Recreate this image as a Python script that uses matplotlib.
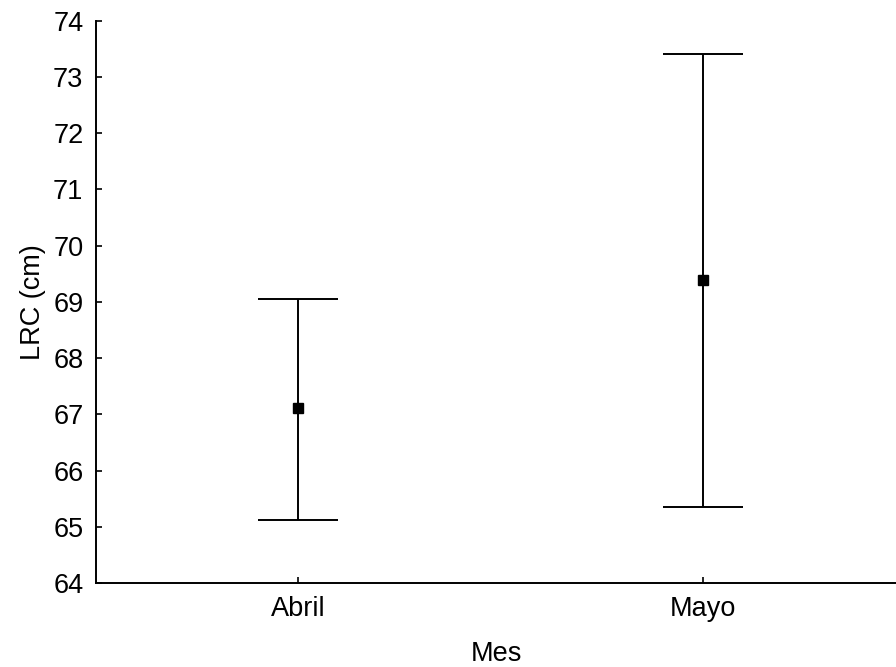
import matplotlib.pyplot as plt

plt.rcParams['font.family'] = ['Liberation Sans', 'DejaVu Sans']

meses = ['Abril', 'Mayo']
media = [67.11, 69.38]
lim_inf = [65.12, 65.36]
lim_sup = [69.05, 73.40]

err_low = [m - l for m, l in zip(media, lim_inf)]
err_high = [u - m for m, u in zip(media, lim_sup)]

fig = plt.figure(figsize=(8.96, 6.67), dpi=100)
ax = fig.add_axes([96 / 896, 1 - 583 / 667, 1 - 96 / 896, (583 - 20.7) / 667])

x = list(range(len(meses)))
ax.errorbar(x, media, yerr=[err_low, err_high], fmt='s', color='black',
            markersize=7.5, ecolor='black', elinewidth=1.4, capsize=29, capthick=1.4)

ax.set_xlim(-0.5, 1.477)
ax.set_ylim(64, 74)
ax.set_xticks(x)
ax.set_xticklabels(meses)
ax.set_yticks(range(64, 75))

ax.spines['top'].set_visible(False)
ax.spines['right'].set_visible(False)
ax.spines['left'].set_linewidth(1.4)
ax.spines['bottom'].set_linewidth(1.4)
ax.tick_params(direction='in', length=4, width=1.2, labelsize=19.5, pad=9)

ax.set_xlabel('Mes', fontsize=19.5, labelpad=14)
ax.set_ylabel('LRC (cm)', fontsize=19.5, labelpad=5)

fig.savefig('out.png', dpi=100)
